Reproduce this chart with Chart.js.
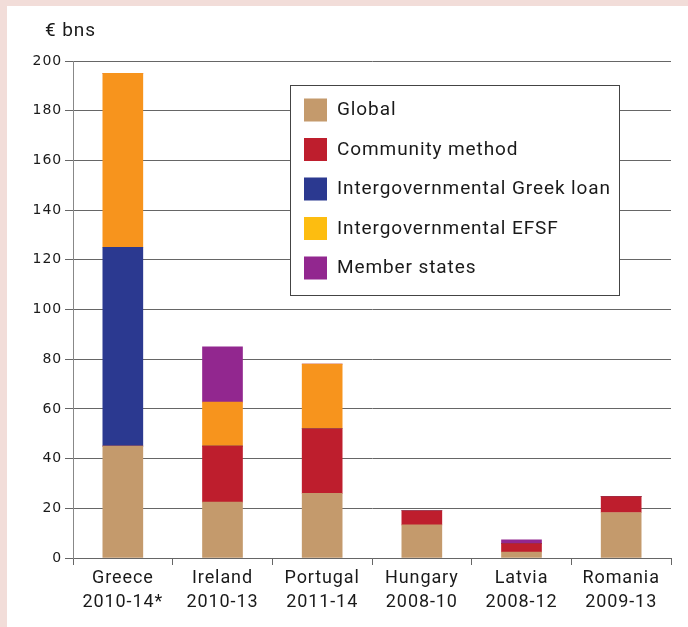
<!DOCTYPE html>
<html>
<head>
<meta charset="utf-8">
<script src="https://cdn.jsdelivr.net/npm/chart.js@4/dist/chart.umd.min.js"></script>
<style>
  body { margin: 0; background: #f2ddd9; }
  #wrap { position: absolute; left: 7px; top: 6px; width: 681px; height: 621px; background: #fff; }
</style>
</head>
<body>
<div id="wrap"><canvas id="bars" width="681" height="621"></canvas></div>
<script>
// data (€ bn)
var categories = [['Greece', '2010-14*'], ['Ireland', '2010-13'], ['Portugal', '2011-14'],
                  ['Hungary', '2008-10'], ['Latvia', '2008-12'], ['Romania', '2009-13']];
var seriesNames = ['Global', 'Community method', 'Intergovernmental Greek loan', 'Intergovernmental EFSF', 'Member states'];
var globalVals    = [45, 22.5, 26, 13.3, 2.4, 18.3];
var communityVals = [0, 22.5, 26, 5.7, 3.4, 6.4];
var greekLoanVals = [80, 0, 0, 0, 0, 0];
var efsfVals      = [70, 17.7, 26, 0, 0, 0];
var memberVals    = [0, 22.3, 0, 0, 1.5, 0];
var yMin = 0, yMax = 200, yStep = 20;

var barColors = ['#c49a6c', '#be1e2d', '#2b3990', '#f7941d', '#92278f'];
var legendColors = ['#c49a6c', '#be1e2d', '#2b3990', '#fdbd10', '#92278f'];
var font = 'Roboto, "Noto Sans", sans-serif';

// a bit of tracking, the original face is wide
var spacing = {
  id: 'spacing',
  beforeDraw: function(chart) { chart.ctx.letterSpacing = '0.9px'; }
};

// legend drawn inside the plot, boxed
var boxLegend = {
  id: 'boxLegend',
  afterDraw: function(chart) {
    var c = chart.ctx, a = chart.chartArea;
    var x = a.left + 217, y = a.top + 24, w = 329, h = 210;
    c.save();
    c.fillStyle = '#fff';
    c.fillRect(x, y, w, h);
    c.strokeStyle = '#444';
    c.lineWidth = 1;
    c.strokeRect(x + 0.5, y + 0.5, w, h);
    c.font = '19px ' + font;
    c.letterSpacing = '0.9px';
    c.textBaseline = 'middle';
    chart.data.datasets.forEach(function(ds, i) {
      var cy = y + 24.5 + i * 39.5;
      c.fillStyle = legendColors[i];
      c.fillRect(x + 14, cy - 11, 23, 23);
      c.fillStyle = '#1a1a1a';
      c.fillText(ds.label, x + 47, cy + 1);
    });
    // unit label
    c.fillText('€ bns', 38, 25);
    c.restore();
  }
};

window.onload = function() {
  var ctx = document.getElementById('bars').getContext('2d');
  var allVals = [globalVals, communityVals, greekLoanVals, efsfVals, memberVals];
  new Chart(ctx, {
    type: 'bar',
    data: {
      labels: categories,
      datasets: allVals.map(function(vals, i) {
        return { label: seriesNames[i], data: vals, backgroundColor: barColors[i], barThickness: 40 };
      })
    },
    options: {
      responsive: false,
      animation: false,
      layout: { padding: { top: 55, right: 17, left: 0, bottom: 0 } },
      plugins: { legend: { display: false }, tooltip: { enabled: false } },
      scales: {
        x: {
          stacked: true,
          afterFit: function(s) { s.height = 69; },
          border: { color: '#666', width: 1 },
          grid: { offset: true, drawOnChartArea: false, tickLength: 7, color: '#666' },
          ticks: { color: '#1a1a1a', padding: 2, font: { family: font, size: 18, lineHeight: 1.33 } }
        },
        y: {
          stacked: true,
          min: yMin, max: yMax,
          afterFit: function(s) { s.width = 66; },
          border: { color: '#888', width: 1 },
          grid: { color: '#666', tickLength: 8 },
          ticks: { stepSize: yStep, color: '#1a1a1a', padding: 3, font: { family: '"DejaVu Sans", sans-serif', size: 14 } }
        }
      }
    },
    plugins: [spacing, boxLegend]
  });
};
</script>
</body>
</html>
